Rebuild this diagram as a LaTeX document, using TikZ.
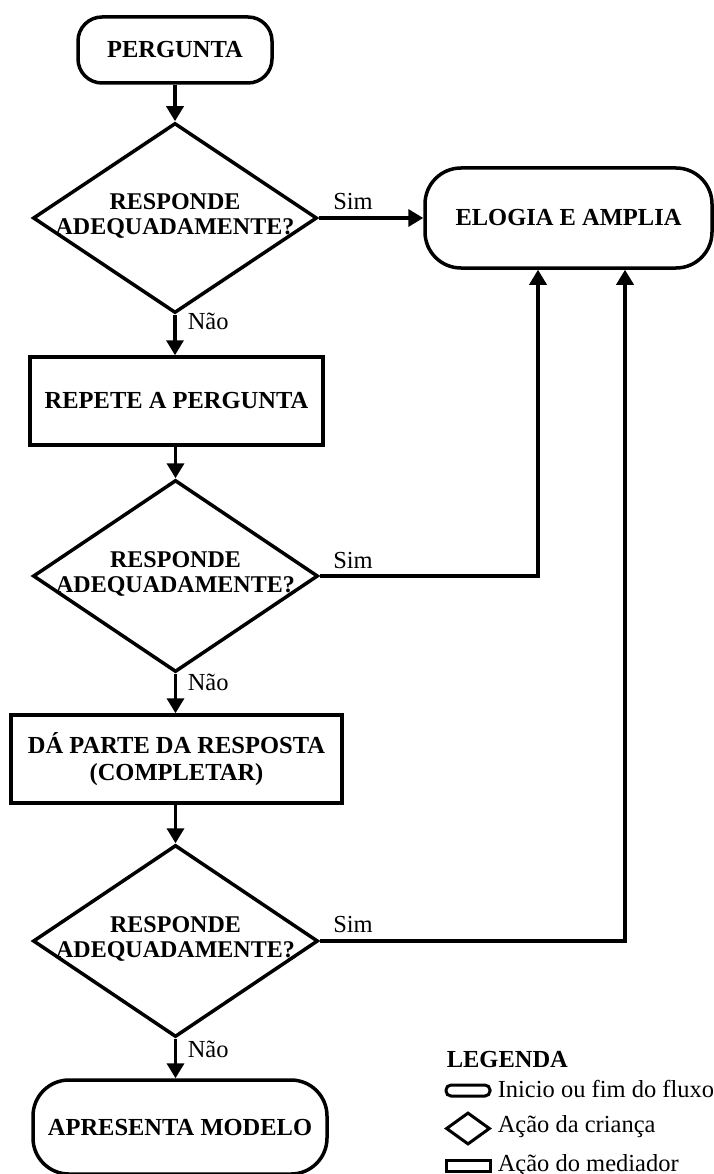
\documentclass[tikz,border=0pt]{standalone}
\usepackage{fontspec}
\setmainfont{Liberation Serif}
\usetikzlibrary{shapes.geometric,arrows.meta}
\begin{document}
\begin{tikzpicture}[x=1pt,y=-1pt,line width=3.5pt,
  box/.style={draw,line width=3.5pt,inner sep=0pt,align=center,
    font=\bfseries\fontsize{24.5}{27}\selectfont},
  term/.style={box,rounded corners=24pt},
  dia/.style={draw,diamond,line width=3.5pt,inner sep=0pt,aspect=1.5},
  diatext/.style={inner sep=0pt,align=center,font=\bfseries\fontsize{24}{25}\selectfont},
  lbl/.style={inner sep=0pt,font=\fontsize{24.5}{22}\selectfont},
  arr/.style={-{Triangle[length=15pt,width=17pt]},line width=3.5pt}]
\useasboundingbox (0,0) rectangle (713,1174);

% main flow
\node[term,minimum width=194pt,minimum height=66pt] (perg) at (175,50) {PERGUNTA};
\node[dia,minimum width=284pt,minimum height=190pt] (d1) at (175,218) {};
\node[diatext] (t1) at (175,216) {RESPONDE\\ADEQUADAMENTE?};
\node[term,rounded corners=36pt,minimum width=287pt,minimum height=100pt] (elog) at (568.5,218) {ELOGIA E AMPLIA};
\node[box,minimum width=293pt,minimum height=88pt] (rep) at (176.5,401) {REPETE A PERGUNTA};
\node[dia,minimum width=285pt,minimum height=192pt] (d2) at (175.5,576) {};
\node[diatext] (t2) at (175.5,574) {RESPONDE\\ADEQUADAMENTE?};
\node[box,minimum width=331pt,minimum height=88pt] (dap) at (176.5,759) {DÁ PARTE DA RESPOSTA\\(COMPLETAR)};
\node[dia,minimum width=285pt,minimum height=192pt] (d3) at (175.5,941) {};
\node[diatext] (t3) at (175.5,939) {RESPONDE\\ADEQUADAMENTE?};
\node[term,rounded corners=36pt,minimum width=294pt,minimum height=94pt] (apr) at (180,1127) {APRESENTA MODELO};

% connectors
\draw[arr] (perg.south) -- (d1.north);
\draw[arr] (d1.east) -- (elog.west);
\draw[arr] (d1.south) -- (d1.south |- rep.north);
\draw[arr] (rep.south -| d2.north) -- (d2.north);
\draw[arr] (d2.east) -| ([xshift=-30.5pt]elog.south);
\draw[arr] (d2.south) -- (d2.south |- dap.north);
\draw[arr] (dap.south -| d3.north) -- (d3.north);
\draw[arr] (d3.east) -| ([xshift=56.5pt]elog.south);
\draw[arr] (d3.south) -- (d3.south |- apr.north);

% labels
\node[lbl,anchor=base] (s1) at (353,210) {Sim};
\node[lbl,anchor=base] (s2) at (353,568) {Sim};
\node[lbl,anchor=base] (s3) at (353,932) {Sim};
\node[lbl,anchor=base west] (n1) at (186,329) {Não};
\node[lbl,anchor=base west] (n2) at (186,690) {Não};
\node[lbl,anchor=base west] (n3) at (186,1057) {Não};

% legend
\node[inner sep=0pt,anchor=base west,font=\bfseries\fontsize{24.5}{22}\selectfont] (leg) at (445,1067) {LEGENDA};
\draw[line width=3pt,rounded corners=5pt] (446,1085) rectangle (490,1096);
\node[lbl,anchor=base west] (l1) at (496,1097) {Inicio ou fim do fluxo};
\node[draw,diamond,line width=3pt,inner sep=0pt,minimum width=44pt,minimum height=32pt] (ld) at (468,1128.5) {};
\node[lbl,anchor=base west] (l2) at (496,1132) {Ação da criança};
\draw[line width=3pt] (446,1160) rectangle (490,1171);
\node[lbl,anchor=base west] (l3) at (496,1171) {Ação do mediador};
\end{tikzpicture}
\end{document}
